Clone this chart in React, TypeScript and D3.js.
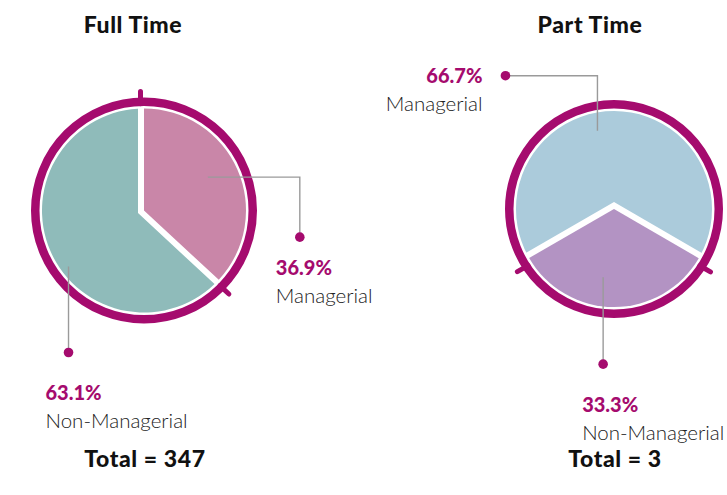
import React from "react";
import * as d3 from "d3";

const width = 727;
const height = 495;

// values
const groups = ["Full Time", "Part Time"];
const categories = ["Managerial", "Non-Managerial"];
const fullTimeShares = [36.9, 63.1];
const partTimeShares = [66.7, 33.3];
const totals = [347, 3];
const fullTimeColors = ["#c986a8", "#8fbbba"];
const partTimeColors = ["#abcbdb", "#b393c3"];

const ringColor = "#a50b6e";
const leaderColor = "#9a9a9a";
const font = "Lato, 'Open Sans', sans-serif";

// where each pie sits and how its callouts are laid out
// tickShift: px the boundary ticks are nudged toward the larger slice (negative = toward smaller)
const pieLayout = [
  {
    cx: 144, cy: 210.5, outer: 113, start: 0, titleX: 133, totalX: 145, tickShift: 3.5,
    labels: [
      { da: -4, r: 72, path: [[92, 0], [0, 60]], tx: -24, ty: 38, anchor: "start" },
      { da: -13, r: 94, path: [[0, 86]], tx: -23, ty: 47, anchor: "start" },
    ],
  },
  {
    cx: 614, cy: 209, outer: 109, start: -120, titleX: 590, totalX: 615, tickShift: -6,
    labels: [
      { da: -12, r: 80, path: [[0, -55], [-92, 0]], tx: -23, ty: 7, anchor: "end" },
      { da: 9, r: 69, path: [[0, 87]], tx: -21, ty: 48, anchor: "start" },
    ],
  },
];

const rad = (deg: number) => (deg * Math.PI) / 180;
const polar = (a: number, r: number) => [Math.sin(a) * r, -Math.cos(a) * r];

function Pie({ idx }: { idx: number }) {
  const lay = pieLayout[idx];
  const shares = idx === 0 ? fullTimeShares : partTimeShares;
  const colors = idx === 0 ? fullTimeColors : partTimeColors;
  const ringW = 8.5;
  const ringMid = lay.outer - ringW / 2;
  const fillR = lay.outer - ringW - 2.5;
  const sepW = 12;

  const pie = d3
    .pie<number>()
    .sort(null)
    .value((d) => d)
    .startAngle(rad(lay.start))
    .endAngle(rad(lay.start) + 2 * Math.PI);
  const slices = pie(shares);
  const arc = d3.arc<d3.PieArcDatum<number>>().innerRadius(0).outerRadius(fillR);
  const maxI = d3.maxIndex(shares);
  // larger slice first, smaller one on top with a white stroke that makes the separator
  const order = slices.map((s, i) => i).sort((a, b) => (a === maxI ? -1 : b === maxI ? 1 : 0));

  // boundary ticks: slice i starts where slice i-1 ends
  const ticks = slices.map((s, i) => {
    const a = s.startAngle;
    const prev = (i - 1 + slices.length) % slices.length;
    const sign = prev === maxI ? -1 : 1;
    const off = lay.tickShift * sign;
    const [x1, y1] = polar(a, ringMid - 2);
    const [x2, y2] = polar(a, lay.outer + 6);
    const px = Math.cos(a) * off;
    const py = Math.sin(a) * off;
    return { x1: x1 + px, y1: y1 + py, x2: x2 + px, y2: y2 + py };
  });

  return (
    <g>
      <text x={lay.titleX} y={33} textAnchor="middle" fontFamily={font} fontWeight={900} fontSize={23} letterSpacing={0.6} fill="#111">
        {groups[idx]}
      </text>
      <g transform={`translate(${lay.cx},${lay.cy})`}>
        {order.map((i) => (
          <path
            key={i}
            d={arc(slices[i]) || ""}
            fill={colors[i]}
            stroke={i === maxI ? "none" : "#fff"}
            strokeWidth={i === maxI ? 0 : sepW}
            strokeLinejoin="miter"
            style={{ paintOrder: "stroke" }}
          />
        ))}
        <circle r={ringMid} fill="none" stroke={ringColor} strokeWidth={ringW} />
        {ticks.map((t, i) => (
          <line key={i} x1={t.x1} y1={t.y1} x2={t.x2} y2={t.y2} stroke={ringColor} strokeWidth={5} strokeLinecap="round" />
        ))}
        {slices.map((s, i) => {
          const l = lay.labels[i];
          const mid = (s.startAngle + s.endAngle) / 2;
          const [sx, sy] = polar(mid + rad(l.da), l.r);
          let x = sx;
          let y = sy;
          const pts: [number, number][] = [[x, y]];
          l.path.forEach(([dx, dy]) => {
            x += dx;
            y += dy;
            pts.push([x, y]);
          });
          const line = d3.line()(pts) || "";
          const end = l.anchor === "end";
          const tx = x + l.tx;
          return (
            <g key={i}>
              <path d={line} fill="none" stroke={leaderColor} strokeWidth={1.4} />
              <circle cx={x} cy={y} r={4.8} fill={ringColor} />
              <text x={tx} y={y + l.ty} textAnchor={end ? "end" : "start"} fontFamily={font} fontWeight={900} fontSize={20} fill={ringColor}>
                {d3.format(".1f")(shares[i])}%
              </text>
              <text x={tx} y={y + l.ty + 28} textAnchor={end ? "end" : "start"} fontFamily={font} fontWeight={300} fontSize={20.5} fill="#222">
                {categories[i]}
              </text>
            </g>
          );
        })}
      </g>
      <text x={lay.totalX} y={467} textAnchor="middle" fontFamily={font} fontWeight={900} fontSize={23} letterSpacing={0.6} fill="#111">
        Total = {totals[idx]}
      </text>
    </g>
  );
}

export default function App() {
  return (
    <svg width={width} height={height} style={{ position: "absolute", left: 0, top: 0, background: "#fff" }}>
      {groups.map((g, i) => (
        <Pie key={g} idx={i} />
      ))}
    </svg>
  );
}
